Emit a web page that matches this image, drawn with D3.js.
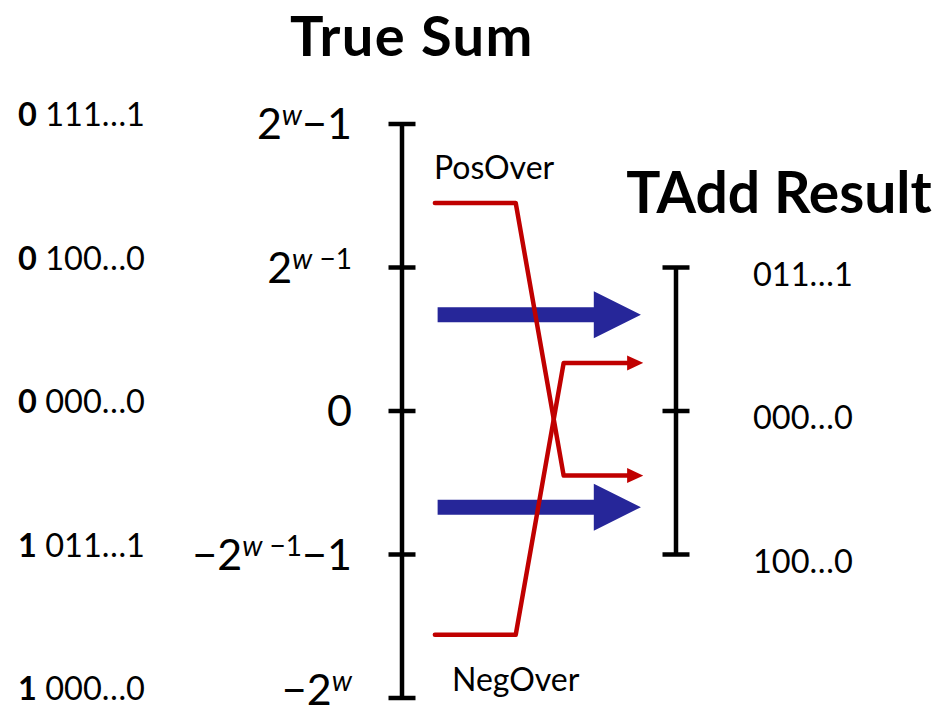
<!DOCTYPE html>
<html>
<head>
<meta charset="utf-8">
<script src="https://cdn.jsdelivr.net/npm/d3@7"></script>
<style>
  html, body { margin: 0; padding: 0; background: #fff; }
  svg { display: block; font-family: Lato, "Open Sans", sans-serif; }
</style>
</head>
<body>
<svg id="chart" width="944" height="715"></svg>
<script>
// ---------------- data ----------------
const sumTicks = [4, 2, 0, -2, -4];
const sumTickLabels = ["2^{w}−1", "2^{w −1}", "0", "−2^{w −1}−1", "−2^{w}"];
const bitSigns = ["0", "0", "0", "1", "1"];
const bitBodies = ["111…1", "100…0", "000…0", "011…1", "000…0"];
const resultTicks = [2, 0, -2];
const resultLabels = ["011…1", "000…0", "100…0"];
const posOverPath = [2.9, 2.9, -0.9, -0.9];
const negOverPath = [-3.12, -3.12, 0.67, 0.67];
const overStages = [0, 1, 2, 3];
const blueArrowValues = [1.34, -1.34];
const titles = ["True Sum", "TAdd Result"];
const overLabels = ["PosOver", "NegOver"];

// ---------------- layout ----------------
const svg = d3.select("#chart");
const y = d3.scaleLinear().domain([-4, 4]).range([698, 124]);
const xAxisL = 402, xAxisR = 676;
const xs = d3.scaleLinear().domain([0, 1]).range([xAxisL, xAxisR]);
const stageX = d3.scaleOrdinal().domain(overStages).range([0.12, 0.415, 0.59, 0.88]);

const RED = "#C00000", BLUE = "#262699";

// titles
svg.append("text").attr("x", 412).attr("y", 56).attr("text-anchor", "middle")
  .attr("font-size", 56).attr("letter-spacing", 1.4).attr("font-weight", 700).text(titles[0]);
svg.append("text").attr("x", 779).attr("y", 213).attr("text-anchor", "middle")
  .attr("font-size", 57).attr("font-weight", 700).text(titles[1]);

// blue arrows
const shaftHalf = 7.5, headHalf = 23.5;
blueArrowValues.forEach(v => {
  const x0 = xs(0.13), xh = xs(0.7), xt = xs(0.872), cy = y(v);
  const pts = [[x0, cy - shaftHalf], [xh, cy - shaftHalf], [xh, cy - headHalf], [xt, cy],
               [xh, cy + headHalf], [xh, cy + shaftHalf], [x0, cy + shaftHalf]];
  svg.append("path").attr("d", "M" + pts.map(p => p.join(",")).join("L") + "Z")
    .attr("fill", BLUE);
});

// red arrowhead marker
svg.append("defs").append("marker")
  .attr("id", "redhead").attr("markerUnits", "userSpaceOnUse")
  .attr("viewBox", "0 0 16 16").attr("refX", 1).attr("refY", 8)
  .attr("markerWidth", 16).attr("markerHeight", 16).attr("orient", "auto")
  .append("path").attr("d", "M0,0.5L16,8L0,15.5Z").attr("fill", RED);

[posOverPath, negOverPath].forEach(p => {
  svg.append("path")
    .datum(p)
    .attr("d", d3.line().x((d, i) => i === 3 ? xs(stageX(i)) - 15 : xs(stageX(i))).y(d => y(d)))
    .attr("fill", "none").attr("stroke", RED).attr("stroke-width", 4.5)
    .attr("stroke-linecap", "round").attr("stroke-linejoin", "round")
    .attr("marker-end", "url(#redhead)");
});

// over labels
svg.append("text").attr("x", 434).attr("y", 179).attr("font-size", 32).text(overLabels[0]);
svg.append("text").attr("x", 452).attr("y", 691).attr("font-size", 32).text(overLabels[1]);

// axes
function drawAxis(x, ticks) {
  const g = svg.append("g");
  g.append("line").attr("x1", x).attr("x2", x)
    .attr("y1", y(d3.max(ticks))).attr("y2", y(d3.min(ticks)))
    .attr("stroke", "#000").attr("stroke-width", 4.5);
  g.selectAll("line.tick").data(ticks).join("line").attr("class", "tick")
    .attr("x1", x - 13.5).attr("x2", x + 13.5)
    .attr("y1", d => y(d)).attr("y2", d => y(d))
    .attr("stroke", "#000").attr("stroke-width", 4.5);
}
drawAxis(xAxisL, sumTicks);
drawAxis(xAxisR, resultTicks);

// left axis labels with superscripts
function richLabel(sel, str, size, supSize, rise) {
  const re = /\^\{([^}]*)\}/g;
  let last = 0, m, raised = false;
  const parts = [];
  while ((m = re.exec(str)) !== null) {
    if (m.index > last) parts.push({ t: str.slice(last, m.index), sup: false });
    parts.push({ t: m[1], sup: true });
    last = re.lastIndex;
  }
  if (last < str.length) parts.push({ t: str.slice(last), sup: false });
  parts.forEach(p => {
    const ts = sel.append("tspan").attr("font-size", p.sup ? supSize : size);
    if (p.sup && !raised) { ts.attr("dy", -rise); raised = true; }
    else if (!p.sup && raised) { ts.attr("dy", rise); raised = false; }
    if (p.sup) {
      const mm = p.t.match(/^(w)(.*)$/);
      if (mm) {
        ts.append("tspan").attr("font-style", "italic").text(mm[1]);
        if (mm[2]) ts.append("tspan").text(mm[2]);
      } else ts.text(p.t);
    } else ts.text(p.t);
  });
}
sumTicks.forEach((v, i) => {
  const t = svg.append("text").attr("x", 352).attr("y", Math.min(y(v) + 15, 705))
    .attr("text-anchor", "end").attr("font-size", 43);
  richLabel(t, sumTickLabels[i], 43, 28, 14);
});

// bit pattern labels (left)
sumTicks.forEach((v, i) => {
  const t = svg.append("text").attr("x", 18).attr("y", y(v) + 2).attr("font-size", 32.5);
  t.append("tspan").attr("font-weight", 700).text(bitSigns[i]);
  t.append("tspan").text(" " + bitBodies[i]);
});

// result labels (right)
resultTicks.forEach((v, i) => {
  svg.append("text").attr("x", 753).attr("y", y(v) + 18).attr("font-size", 32.5).text(resultLabels[i]);
});
</script>
</body>
</html>
